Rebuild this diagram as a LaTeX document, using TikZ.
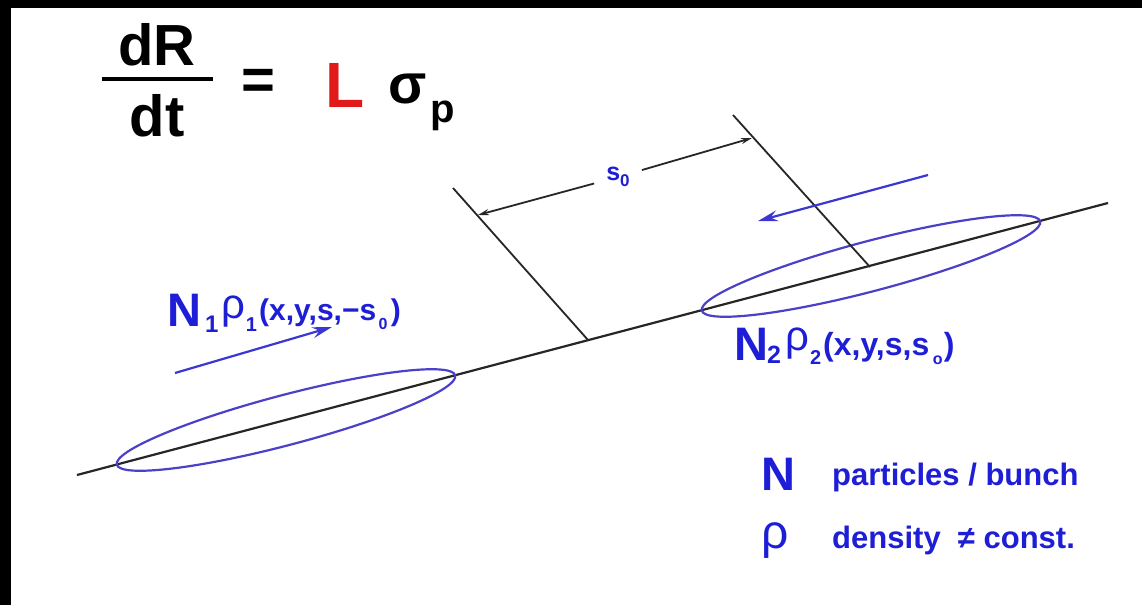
\documentclass[tikz,border=0pt]{standalone}
\usepackage{fontspec}
\setmainfont{Liberation Sans}
\usetikzlibrary{arrows.meta}
\definecolor{txtblue}{RGB}{30,30,215}
\definecolor{ellblue}{RGB}{75,65,200}
\definecolor{arrblue}{RGB}{60,55,210}
\definecolor{myred}{RGB}{225,25,25}
\newcommand{\fsz}[1]{\fontsize{#1}{#1}\selectfont}
\begin{document}
\begin{tikzpicture}[x=1pt,y=-1pt,
  txt/.style={inner sep=0pt, anchor=base west},
  bl/.style={txt, text=txtblue},
  axisline/.style={line width=2.2pt, black!85},
  extline/.style={line width=1.8pt, black!85},
  bunch/.style={line width=2.2pt, ellblue},
  motion/.style={line width=2.2pt, arrblue, -{Stealth[length=20pt,width=11pt,inset=7pt]}},
  dimarrow/.style={line width=1.8pt, black!85, -{Stealth[length=11pt,width=6pt]}}]
\fill[black] (0,0) rectangle (1142,605);
\fill[white] (11,8) rectangle (1142,605);
\useasboundingbox (0,0) rectangle (1142,605);

% formula
\node[txt, anchor=base, font={\fsz{58}\bfseries}] (dR) at (157,65) {dR};
\coordinate (barL) at (102,79);
\coordinate (barR) at (213,79);
\draw[line width=4pt] (barL) -- (barR);
\node[txt, anchor=base, font={\fsz{58}\bfseries}] (dt) at (157,136) {dt};
\node[inner sep=0pt, font={\fsz{58}\bfseries}] (eq) at (258,84) {=};
\node[txt, font={\fsz{64}\bfseries}, text=myred] (L) at (325,107) {L};
\node[txt, font={\fsz{56}\bfseries}] (sigma) at (388,103) {σ};
\node[txt, font={\fsz{40}\bfseries}] (p) at (430,122) {p};

% main axis
\coordinate (axA) at (77,475);
\coordinate (axB) at (1108,203);
\draw[axisline] (axA) -- (axB);

% bunches
\draw[bunch, rotate around={14.78:(286,420)}] (286,420) ellipse [x radius=175, y radius=25];
\draw[bunch, rotate around={14.78:(871,266)}] (871,266) ellipse [x radius=175, y radius=25];

% extension lines
\coordinate (e1t) at (453,188);
\coordinate (e1b) at (588,340);
\coordinate (e2t) at (733,115);
\coordinate (e2b) at (870,267);
\draw[extline] (e1t) -- (e1b);
\draw[extline] (e2t) -- (e2b);

% dimension s0
\coordinate (dimL) at (478,215);
\coordinate (dimR) at (752,138);
\node[bl, anchor=center, inner xsep=12pt, inner ysep=2pt, font={\fsz{25}\bfseries}] (s0) at (618,177) {s\raisebox{-6pt}{\fsz{17}0}};
\draw[dimarrow] (s0) -- (dimL);
\draw[dimarrow] (s0) -- (dimR);

% motion arrows
\coordinate (m1a) at (175,373);
\coordinate (m1b) at (332,327);
\coordinate (m2a) at (928,175);
\coordinate (m2b) at (758,221);
\draw[motion] (m1a) -- (m1b);
\draw[motion] (m2a) -- (m2b);

% label bunch 1
\node[bl, font={\fsz{47}\bfseries}] (N1) at (167,326) {N};
\node[bl, font={\fsz{24}\bfseries}] (N1s) at (205,332) {1};
\node[bl, font={\fsz{42}}] (r1) at (221,318) {ρ};
\node[bl, font={\fsz{20}\bfseries}] (r1s) at ([xshift=0.5pt,yshift=-13pt]r1.base east) {1};
\node[bl, font={\fsz{30}\bfseries}] (arg1) at (259,320) {(x,y,s,−s};
\node[bl, font={\fsz{16}\bfseries}] (arg1s) at ([xshift=2pt,yshift=-9pt]arg1.base east) {0};
\node[bl, font={\fsz{30}\bfseries}] (arg1e) at ([xshift=3pt]arg1s.base east |- arg1.base) {)};

% label bunch 2
\node[bl, font={\fsz{47}\bfseries}] (N2) at (734,360) {N};
\node[bl, font={\fsz{25}\bfseries}] (N2s) at (767,363) {2};
\node[bl, font={\fsz{42}}] (r2) at (785,350) {ρ};
\node[bl, font={\fsz{20}\bfseries}] (r2s) at ([xshift=0.5pt,yshift=-14pt]r2.base east) {2};
\node[bl, font={\fsz{32}\bfseries}] (arg2) at (823,355) {(x,y,s,s};
\node[bl, font={\fsz{16}\bfseries}] (arg2s) at ([xshift=3pt,yshift=-9pt]arg2.base east) {o};
\node[bl, font={\fsz{32}\bfseries}] (arg2e) at ([xshift=1pt]arg2s.base east |- arg2.base) {)};

% legend
\node[bl, font={\fsz{47}\bfseries}] (lgN) at (761,490) {N};
\node[bl, font={\fsz{31}\bfseries}] (lgNt) at (832,485) {particles / bunch};
\node[bl, font={\fsz{48}}] (lgr) at (761,548) {ρ};
\node[bl, font={\fsz{31}\bfseries}] (lgrt) at (832,548) {density\ \ ≠ const.};
\end{tikzpicture}
\end{document}
